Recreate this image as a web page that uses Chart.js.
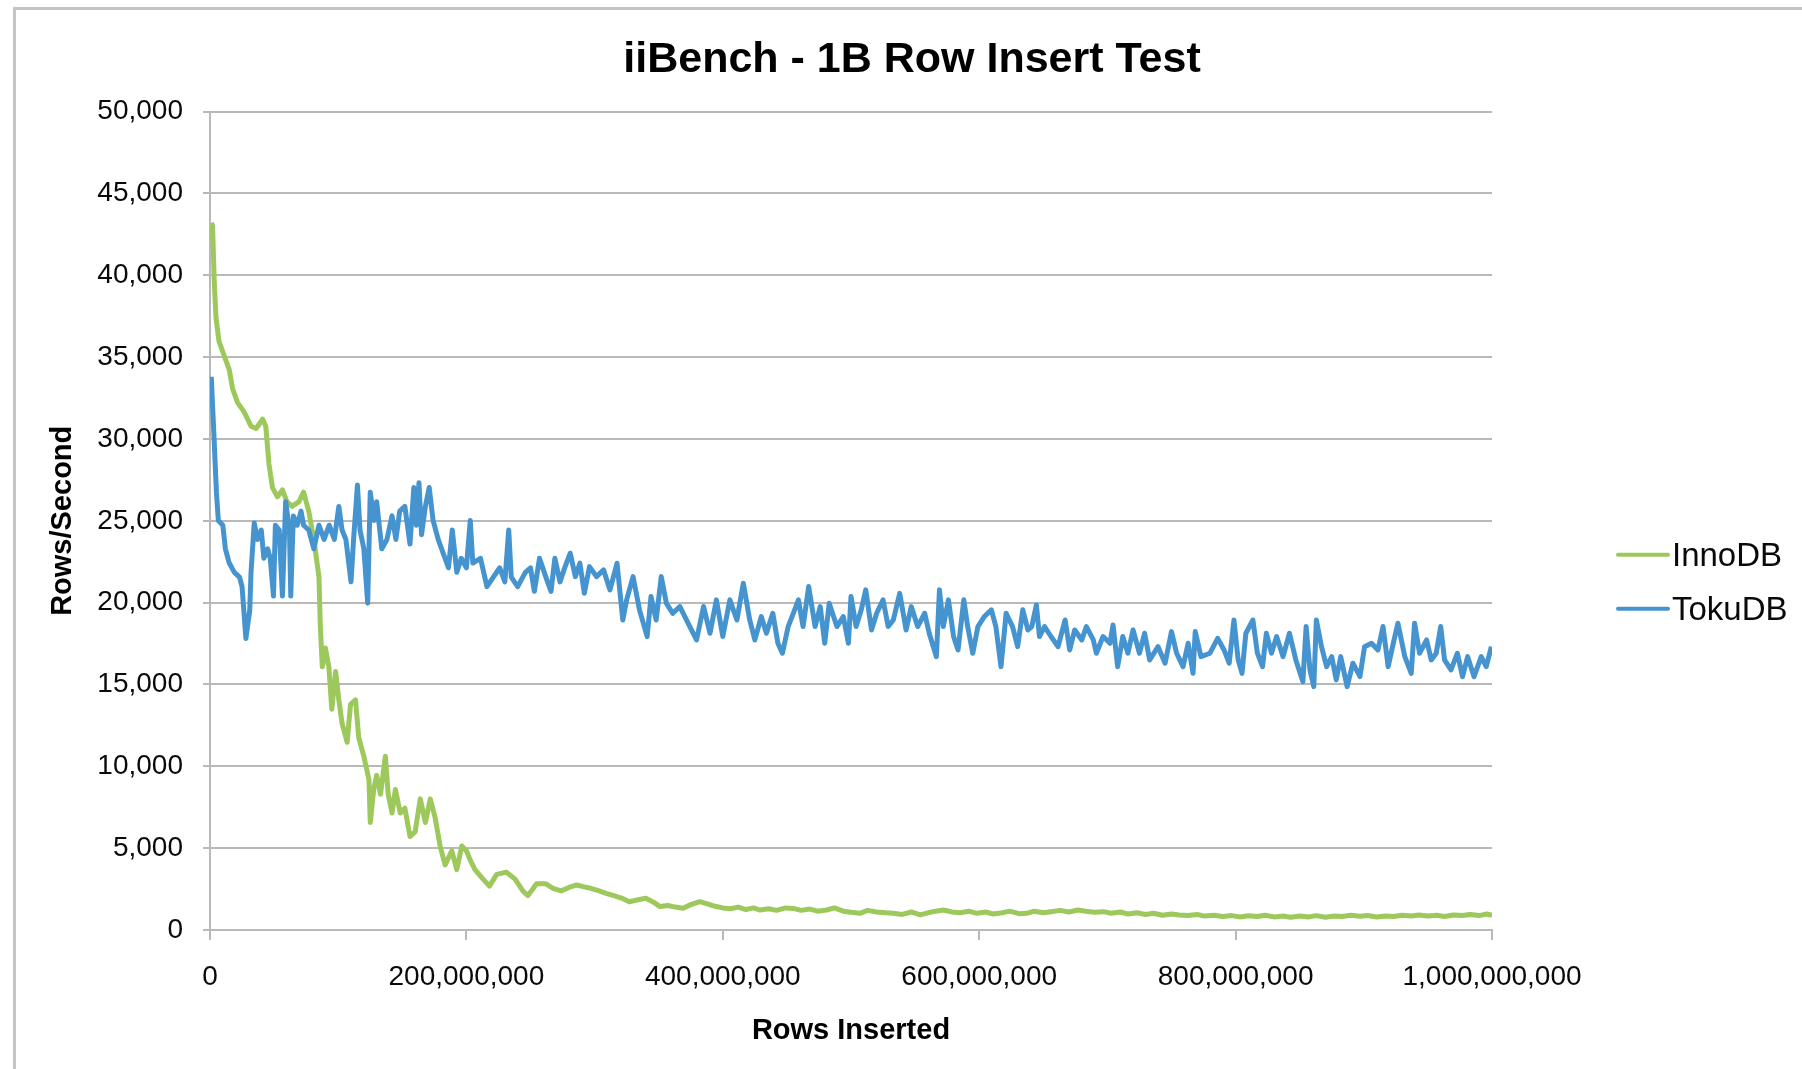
<!DOCTYPE html>
<html>
<head>
<meta charset="utf-8">
<script src="https://cdn.jsdelivr.net/npm/chart.js@4.4.0/dist/chart.umd.min.js"></script>
<style>
  html, body { margin: 0; padding: 0; background: #ffffff; overflow: hidden; }
  #frame { position: absolute; left: 13px; top: 7px; width: 1900px; height: 1200px;
           border-top: 3px solid #c4c4c4; border-left: 3px solid #c4c4c4; }
  #wrap { position: absolute; left: 0; top: 0; width: 1802px; height: 1069px; }
</style>
</head>
<body>
<div id="frame"></div>
<div id="wrap"><canvas id="c" width="1802" height="1069"></canvas></div>
<script>
// ---- Data (x in millions of rows inserted, y in rows/second) ----
const seriesNames = ['InnoDB', 'TokuDB'];
const xTickValues = [0, 200000000, 400000000, 600000000, 800000000, 1000000000];

const innoX = [1, 2, 3.4, 4.7, 7, 11, 15, 17.6, 21.5, 26.7, 32, 36, 41, 43.5, 46, 48.7, 52.6, 56.5, 60, 64,
  69.4, 73, 77, 81, 85, 86, 87.6, 90, 92.7, 95, 98, 100.5, 103, 107, 109.6, 113.5, 116, 120, 124, 125,
  127.7, 130, 133, 136.8, 139, 142, 144.6, 148.4, 152, 156, 160, 164, 168, 171.8, 175.6, 179.5, 183.4, 188.6, 192.5, 196.4,
  200, 203, 206.7, 213, 218, 223.6, 231, 238, 244, 248, 254.7, 262, 267.6,
  274, 280, 286, 291, 297, 303, 309, 315, 321, 327, 334, 340, 346, 351, 357, 363, 369, 375, 382, 388,
  394, 400, 406, 412, 418, 424, 429, 436, 442, 449, 455, 461, 468, 474, 481, 487, 494, 500, 507, 513,
  520, 527, 533, 540, 547, 554, 560, 566, 572, 579, 585, 592, 598, 605, 611, 618, 624, 631, 637,
  643, 650, 656, 663, 670, 677, 683, 690, 697, 703, 710, 716, 723, 730, 736, 743, 750, 756, 763, 770,
  776, 783, 790, 797, 803, 810, 817, 823, 830, 837, 843, 850, 857, 863, 870, 877, 883, 890, 897, 903,
  910, 917, 923, 930, 937, 943, 950, 957, 963, 970, 977, 983, 990, 996, 1000];
const innoY = [43200, 43030, 39430, 37400, 35970, 35100, 34240, 33080, 32220, 31640, 30780, 30640, 31210, 30780, 28470, 27030, 26460, 26890, 26170, 25880,
  26170, 26750, 25590, 23860, 21560, 18680, 16080, 17230, 16080, 13490, 15790, 14060, 12620, 11470, 13780, 14060, 11760, 10610, 9160, 6570,
  8590, 9450, 8300, 10610, 8300, 7150, 8590, 7150, 7440, 5710, 5990, 8010, 6570, 8010, 6860, 5130, 3980, 4840, 3690, 5130,
  4840, 4270, 3690, 3110, 2680, 3400, 3540, 3110, 2390, 2100, 2820, 2820, 2540,
  2390, 2600, 2750, 2650, 2550, 2400, 2240, 2100, 1950, 1730, 1850, 1935, 1700, 1430, 1500, 1400, 1330, 1550, 1730, 1600,
  1450, 1350, 1300, 1400, 1250, 1350, 1220, 1300, 1200, 1350, 1320, 1200, 1280, 1150, 1220, 1350, 1150, 1080, 1020, 1200,
  1100, 1050, 1020, 950, 1100, 920, 1050, 1150, 1220, 1100, 1050, 1150, 1020, 1100, 980, 1050, 1150, 1000, 1020,
  1150, 1050, 1120, 1200, 1100, 1220, 1150, 1080, 1120, 1020, 1100, 980, 1050, 950, 1020, 900, 980, 920, 880, 950,
  850, 900, 830, 880, 800, 870, 820, 900, 800, 850, 780, 860, 800, 880, 780, 850, 820, 900, 840, 880,
  800, 860, 820, 900, 850, 920, 850, 900, 830, 920, 880, 950, 880, 980, 900];

const tokuX = [1, 3.4, 5, 6.5, 10, 12, 15, 19, 23, 25, 28, 31, 32, 34.5, 37, 40, 42, 45, 47, 49.5,
  51, 54, 56.5, 59, 62, 63, 65, 68, 71, 73, 77, 81, 85, 89, 93, 97, 100.5, 103, 106, 110,
  112, 115, 117, 120, 123, 125, 128, 130, 134, 138, 142, 145, 148, 152, 156, 159, 161, 163, 165, 168,
  171, 174, 178, 182, 186, 189, 192.5, 196, 200, 203, 205, 211, 216, 221, 226, 230, 233, 235, 240, 246,
  250, 253, 257, 262, 266, 269, 273, 277, 281, 285, 288.5, 292, 296, 301.5, 307, 312, 317.5, 322, 325, 330,
  335, 341, 344, 348, 352, 356, 361, 366.5, 373, 379.5, 385, 390, 395, 400, 405.5, 411, 416, 421, 425, 430,
  434, 439, 443, 446.5, 451, 455, 459, 462.6, 467, 472, 476, 479.5, 483, 489, 494, 498, 500, 504, 508, 511.5,
  516, 520, 525, 529, 533, 538, 543, 547, 552, 557.5, 561, 566.6, 569, 572, 576, 580, 583.5, 588, 591, 595,
  599, 604, 609.5, 613, 617, 621, 626, 630, 634, 638, 641, 644.6, 647, 651, 656, 661.5, 667, 670.6, 674.5, 680,
  683.6, 689, 691.4, 696.6, 702, 704.4, 708, 712, 716, 720, 725, 729, 733, 739.5, 745, 750, 754, 759, 763, 766.8,
  768.5, 773, 780, 786, 791, 795, 798.7, 802, 805, 808, 813.5, 817, 821, 824, 828, 832, 837, 842, 847, 852.5,
  855, 858, 861, 863, 867, 871, 875, 878.5, 882, 887, 891.5, 897, 900.6, 906, 911, 915, 919, 923, 926.6, 932,
  937, 939.6, 943.5, 949, 952.6, 956.5, 960, 963, 968, 973, 977, 981, 986, 991.6, 995.5, 999.5];
const tokuY = [33800, 29630, 26750, 25020, 24730, 23290, 22420, 21850, 21560, 20980, 17810, 19540, 21850, 24870, 23860, 24440, 22710, 23290, 22710, 20400,
  24730, 24440, 20400, 26170, 24440, 20400, 25300, 24730, 25590, 24730, 24440, 23290, 24730, 23860, 24730, 23860, 25880, 24440, 23860, 21270,
  23860, 27180, 24440, 23290, 19970, 26750, 25020, 26170, 23290, 23860, 25300, 23860, 25590, 25880, 23580, 27030, 24730, 27320, 24150, 25880,
  27030, 25020, 23860, 23000, 22130, 24440, 21850, 22710, 22130, 25020, 22420, 22710, 20980, 21560, 22130, 21270, 24440, 21560, 20980, 21850,
  22130, 20690, 22710, 21560, 20690, 22710, 21270, 22200, 23020, 21590, 22410, 20570, 22200, 21590, 22000, 20780, 22410, 18940, 20170, 21590,
  19560, 17930, 20370, 18940, 21590, 19960, 19350, 19760, 18740, 17720, 19760, 18130, 20170, 17930, 20170, 18940, 21190, 18940, 17720, 19150,
  18130, 19350, 17520, 16910, 18540, 19350, 20170, 18540, 20980, 18540, 19760, 17520, 19960, 18540, 19150, 17520, 20370, 18540, 19560, 20780,
  18330, 19350, 20170, 18540, 18940, 20570, 18330, 19760, 18540, 19350, 18130, 16700, 20780, 18540, 20170, 17930, 17110, 20170, 18540, 16910,
  18540, 19150, 19560, 18540, 16090, 19350, 18540, 17310, 19560, 18330, 18540, 19860, 17930, 18540, 17930, 17310, 18940, 17110, 18330, 17720,
  18540, 17720, 16910, 17930, 17520, 18640, 16090, 17930, 16910, 18330, 16910, 18130, 16500, 17310, 16300, 18230, 16910, 16090, 17520, 15680,
  18230, 16700, 16910, 17820, 17110, 16300, 18940, 16500, 15680, 18130, 18940, 16910, 16090, 18130, 16910, 17930, 16700, 18130, 16500, 15170,
  18540, 15890, 14870, 18940, 17310, 16090, 16700, 15280, 16700, 14870, 16300, 15480, 17310, 17520, 17110, 18540, 16090, 17520, 18740, 16700,
  15680, 18740, 16910, 17720, 16500, 16910, 18540, 16500, 15890, 16910, 15480, 16700, 15480, 16700, 16090, 17310];

const FONT = '"Liberation Sans", Arial, Helvetica, sans-serif';
const toPoints = (xs, ys) => xs.map((x, i) => ({ x: x * 1e6, y: ys[i] }));

// Legend drawn in the space reserved on the right of the plot
const sideLegend = {
  id: 'sideLegend',
  afterDraw(chart) {
    const ctx = chart.ctx;
    const a = chart.chartArea;
    const x0 = a.right + 126;
    const yMid = (a.top + a.bottom) / 2;
    chart.data.datasets.forEach((ds, i) => {
      const y = yMid + 34 + i * 54;
      ctx.save();
      ctx.strokeStyle = ds.borderColor;
      ctx.lineWidth = 4;
      ctx.lineCap = 'round';
      ctx.beginPath();
      ctx.moveTo(x0, y);
      ctx.lineTo(x0 + 50, y);
      ctx.stroke();
      ctx.fillStyle = '#0a0a0a';
      ctx.font = '33px ' + FONT;
      ctx.textBaseline = 'middle';
      ctx.textAlign = 'left';
      ctx.fillText(ds.label, x0 + 54, y + 2);
      ctx.restore();
    });
  }
};

const gridColor = '#b9b9b9';

new Chart(document.getElementById('c'), {
  type: 'line',
  data: {
    datasets: [
      { label: seriesNames[0], data: toPoints(innoX, innoY), borderColor: '#9dc85b', backgroundColor: '#9dc85b',
        borderWidth: 5, pointRadius: 0, tension: 0, order: 1, borderJoinStyle: 'round', yAxisID: 'y' },
      { label: seriesNames[1], data: toPoints(tokuX, tokuY), borderColor: '#4594cf', backgroundColor: '#4594cf',
        borderWidth: 5, pointRadius: 0, tension: 0, order: 0, borderJoinStyle: 'round', yAxisID: 'y' }
    ]
  },
  options: {
    responsive: false,
    animation: false,
    layout: { padding: { left: 22, right: 0, top: 0, bottom: 0 } },
    plugins: {
      legend: { display: false },
      tooltip: { enabled: false },
      title: {
        display: true, text: 'iiBench - 1B Row Insert Test', color: '#000000',
        font: { family: FONT, size: 43, weight: 'bold' },
        padding: { top: 34, bottom: 26 }
      }
    },
    scales: {
      x: {
        type: 'linear', min: 0, max: 1000000000,
        afterFit(s) { s.height = 139; },
        afterBuildTicks(s) { s.ticks = xTickValues.map(v => ({ value: v })); },
        ticks: {
          color: '#0a0a0a', padding: 20, maxRotation: 0, autoSkip: false,
          font: { family: FONT, size: 28 },
          callback: v => Number(v).toLocaleString('en-US')
        },
        grid: { drawOnChartArea: false, drawTicks: true, tickLength: 10, color: gridColor, lineWidth: 2 },
        border: { display: true, color: gridColor, width: 2 },
        title: {
          display: true, text: 'Rows Inserted', color: '#000000',
          font: { family: FONT, size: 29, weight: 'bold' },
          padding: { top: 0, bottom: 21 }
        }
      },
      y: {
        position: 'left',
        min: 0, max: 50000,
        afterFit(s) { s.width = 188; },
        ticks: {
          stepSize: 5000, color: '#0a0a0a', padding: 20,
          font: { family: FONT, size: 28 },
          callback: v => Number(v).toLocaleString('en-US')
        },
        grid: { color: gridColor, lineWidth: 2, tickLength: 7, drawTicks: true },
        border: { display: true, color: gridColor, width: 2 },
        title: {
          display: true, text: 'Rows/Second', color: '#000000',
          font: { family: FONT, size: 29, weight: 'bold' },
          padding: { top: 24, bottom: 0 }
        }
      },
      // empty right-hand band that holds the legend
      legendBand: {
        position: 'right', min: 0, max: 1,
        afterFit(s) { s.width = 310; },
        ticks: { display: false },
        grid: { display: false, drawTicks: false },
        border: { display: false }
      }
    }
  },
  plugins: [sideLegend]
});
</script>
</body>
</html>
